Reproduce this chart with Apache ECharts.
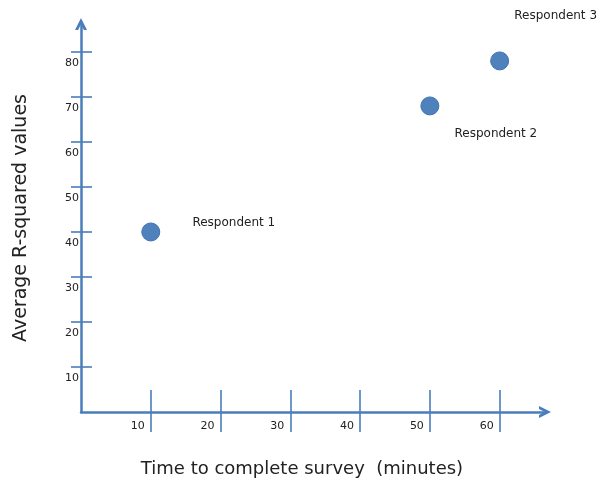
<!DOCTYPE html>
<html>
<head>
<meta charset="utf-8">
<script src="https://cdn.jsdelivr.net/npm/echarts@6/dist/echarts.min.js"></script>
<style>html,body{margin:0;padding:0;background:#fff}#c{width:603px;height:484px}</style>
</head>
<body>
<div id="c"></div>
<script>
// ---- data ----
var respondents = ['Respondent 1', 'Respondent 2', 'Respondent 3'];
var timeMinutes = [10, 50, 60];
var avgRSquared = [40, 68, 78];
var xTickValues = [10, 20, 30, 40, 50, 60];
var yTickValues = [10, 20, 30, 40, 50, 60, 70, 80];
var xTitle = 'Time to complete survey  (minutes)';
var yTitle = 'Average R-squared values';

// ---- style ----
var blue = '#4A7EBB';
var dot = '#4F81BD';
var font = 'DejaVu Sans';
var chevron = 'path://M0,10 L5,0 L10,10 L7.4,10 L5,5.2 L2.6,10 Z';
var labelOffsets = [[83, -9], [66, 28], [56, -45]];

var chart = echarts.init(document.getElementById('c'), null, {renderer: 'canvas'});

var points = respondents.map(function (n, i) {
  return {name: n, value: [timeMinutes[i], avgRSquared[i]], label: {offset: labelOffsets[i]}};
});

var xMax = 66.5, yMax = 86.2;

var option = {
  animation: false,
  backgroundColor: '#fff',
  grid: {left: 81, top: 24, right: 58, bottom: 72, containLabel: false, outerBoundsMode: 'none'},
  xAxis: [{
    type: 'value', position: 'bottom', min: 0, max: xMax,
    name: xTitle, nameLocation: 'middle', nameGap: 48,
    nameTextStyle: {fontFamily: font, fontSize: 18, color: '#222', padding: [0, 22, 0, 0]},
    axisLine: {show: true, symbol: ['none', chevron], symbolSize: [13, 12], lineStyle: {color: blue, width: 2.5}},
    axisTick: {show: true, inside: false, length: 20, customValues: xTickValues, lineStyle: {color: blue, width: 1.6}},
    axisLabel: {show: true, customValues: xTickValues, margin: 9, align: 'right', padding: [0, 6, 0, 0],
      fontFamily: font, fontSize: 11, color: '#222', formatter: function (v) { return String(v); }},
    splitLine: {show: false}
  }, {
    type: 'value', position: 'bottom', min: 0, max: xMax,
    axisLine: {show: false},
    axisTick: {show: true, inside: true, length: 22, customValues: xTickValues, lineStyle: {color: blue, width: 1.6}},
    axisLabel: {show: false},
    splitLine: {show: false}
  }],
  yAxis: [{
    type: 'value', position: 'left', min: 0, max: yMax,
    name: yTitle, nameLocation: 'middle', nameGap: 50, nameRotate: 90,
    nameTextStyle: {fontFamily: font, fontSize: 19, color: '#222'},
    axisLine: {show: true, symbol: ['none', chevron], symbolSize: [13, 12], lineStyle: {color: blue, width: 2.5}},
    axisTick: {show: true, inside: false, length: 10, customValues: yTickValues, lineStyle: {color: blue, width: 1.6}},
    axisLabel: {show: true, customValues: yTickValues, margin: 2, verticalAlign: 'top', padding: [6, 0, 0, 0],
      fontFamily: font, fontSize: 11, color: '#222', formatter: function (v) { return String(v); }},
    splitLine: {show: false}
  }, {
    type: 'value', position: 'left', min: 0, max: yMax,
    axisLine: {show: false},
    axisTick: {show: true, inside: true, length: 11, customValues: yTickValues, lineStyle: {color: blue, width: 1.6}},
    axisLabel: {show: false},
    splitLine: {show: false}
  }],
  series: [{
    type: 'scatter', xAxisIndex: 0, yAxisIndex: 0,
    symbol: 'circle', symbolSize: 18,
    itemStyle: {color: dot, borderColor: '#4273AE', borderWidth: 1, opacity: 1},
    label: {show: true, position: 'inside', formatter: '{b}', fontFamily: font, fontSize: 12, color: '#222'},
    data: points
  }]
};
chart.setOption(option);
</script>
</body>
</html>
